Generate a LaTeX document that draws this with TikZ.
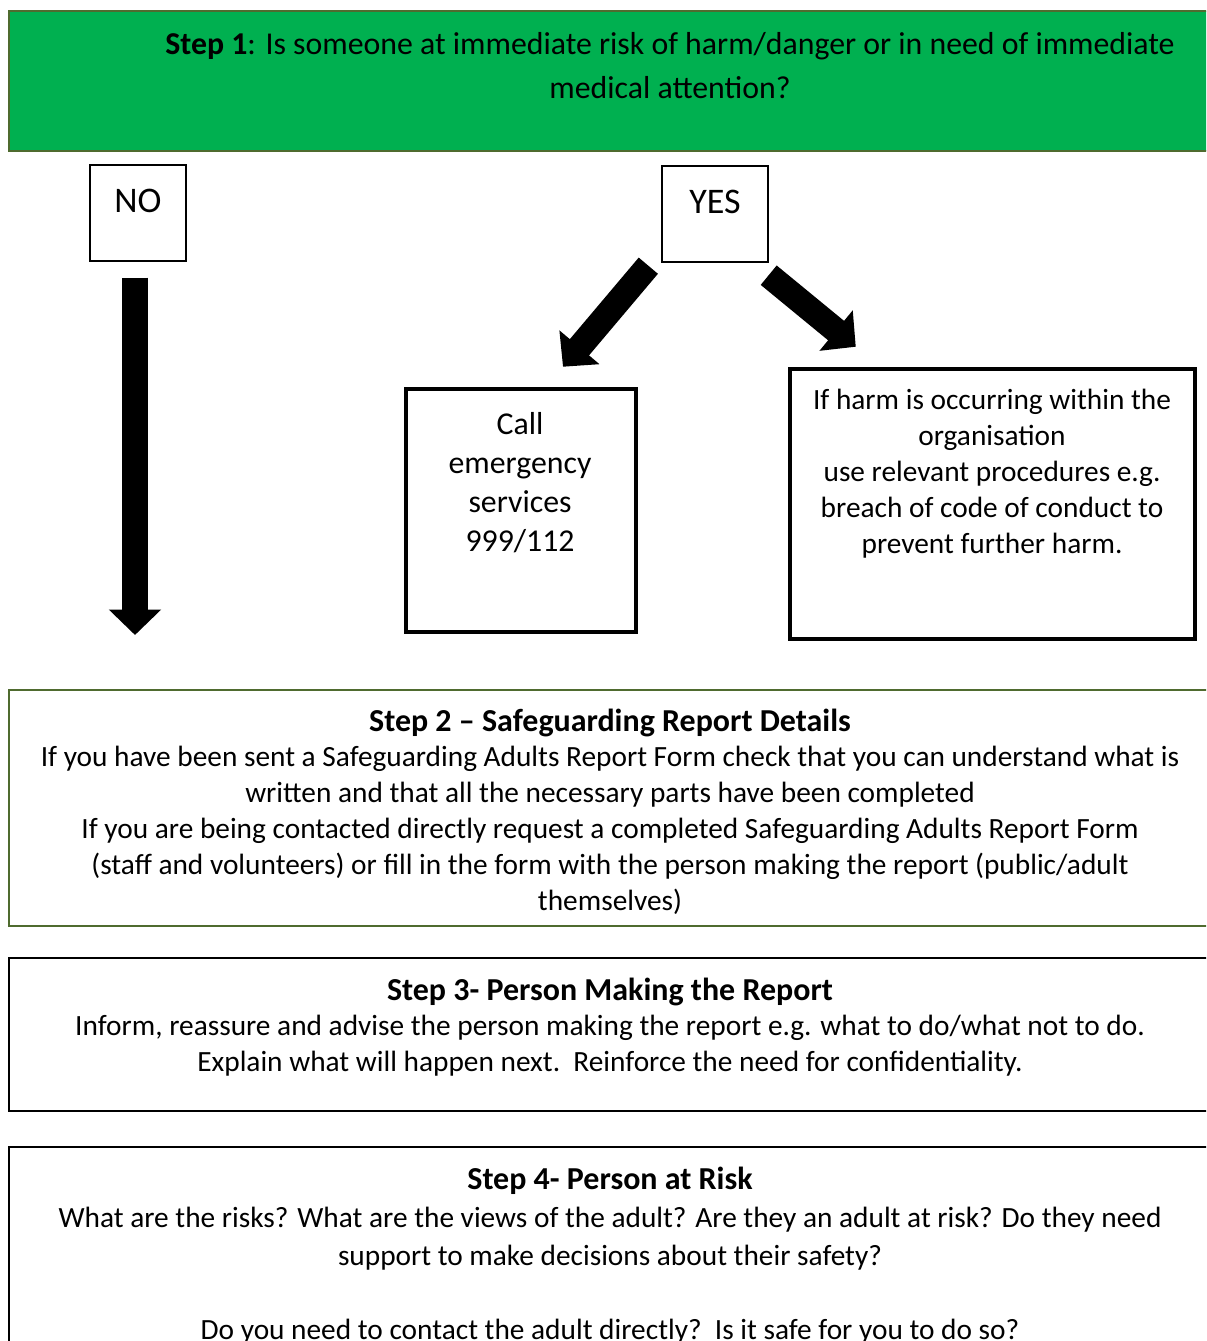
\documentclass[tikz,border=0pt]{standalone}
\usepackage{fontspec}
\setmainfont{Carlito}
\usetikzlibrary{arrows.meta,positioning}
\definecolor{stepgreen}{HTML}{00B050}
\definecolor{olive}{HTML}{4F6B2F}
\newcommand{\steptitle}[1]{{\fontsize{18.2pt}{20.4pt}\selectfont\textbf{#1}}}
\tikzset{
  box/.style={draw=black, line width=0.8pt, inner sep=0pt},
  thickbox/.style={draw=black, line width=2.6pt, inner sep=0pt},
  stepbox/.style={inner sep=0pt, minimum width=24.12cm},
  txt/.style={align=center, inner sep=0pt, font=\fontsize{16.7pt}{20.4pt}\selectfont},
  bigtxt/.style={txt, font=\fontsize{18.1pt}{22.1pt}\selectfont},
  bigarrow/.style={line width=14.3pt, -{Triangle[length=14.5pt,width=29pt]}}
}

\begin{document}
\begin{tikzpicture}[x=0.02cm,y=-0.02cm]
\useasboundingbox (0,0) rectangle (1206,1341);
\clip (0,0) rectangle (1206,1341);

% step 1
\node [stepbox, fill=stepgreen, draw=olive, line width=0.8pt, minimum height=2.8cm] (step1) at (612,81) {};
\node [txt, font=\fontsize{18.1pt}{25.5pt}\selectfont] (step1txt) at (670,65.5) {\textbf{Step 1}: Is someone at immediate risk of harm/danger or in need of immediate\\medical attention?};

% no / yes
\node [box, minimum width=1.92cm, minimum height=1.92cm] (no) at (138,213) {};
\node [txt, font=\fontsize{20.5pt}{24pt}\selectfont] (notxt) at (138,201) {NO};
\node [box, minimum width=2.12cm, minimum height=1.92cm] (yes) at (715,214) {};
\node [txt, font=\fontsize{20.5pt}{24pt}\selectfont] (yestxt) at (715,202) {YES};

% outcomes
\node [thickbox, minimum width=4.6cm, minimum height=4.86cm] (call) at (521,510.5) {};
\node [bigtxt] (calltxt) at (520,482.5) {Call\\emergency\\services\\999/112};
\node [thickbox, minimum width=8.1cm, minimum height=5.4cm] (harm) at (992.5,504) {};
\node [txt] (harmtxt) at (992,473.5) {If harm is occurring within the\\organisation\\use relevant procedures e.g.\\breach of code of conduct to\\prevent further harm.};

\coordinate (noend) at (135,635);
\draw [bigarrow] ([shift={(-3,16)}]no.south) -- (noend);
\draw [bigarrow] ([shift={(-13,3)}]yes.south west) -- ([shift={(42,-20)}]call.north);
\draw [bigarrow] ([shift={(0,12.5)}]yes.south east) -- ([shift={(68,-20)}]harm.north west);

% step 2
\node [stepbox, draw=olive, line width=1pt, minimum height=4.72cm] (step2) at (612,808) {};
\node [txt] (step2txt) at (610,811.5) {\steptitle{Step 2 – Safeguarding Report Details}\\If you have been sent a Safeguarding Adults Report Form check that you can understand what is\\written and that all the necessary parts have been completed\\If you are being contacted directly request a completed Safeguarding Adults Report Form\\(staff and volunteers) or fill in the form with the person making the report (public/adult\\themselves)};

% step 3
\node [stepbox, draw=black, line width=1.5pt, minimum height=3.06cm] (step3) at (612,1034.5) {};
\node [txt] (step3txt) at (610,1027) {\steptitle{Step 3- Person Making the Report}\\Inform, reassure and advise the person making the report e.g. what to do/what not to do.\\Explain what will happen next.\ \ Reinforce the need for confidentiality.};

% step 4
\node [stepbox, draw=black, line width=1.5pt, minimum height=5.06cm] (step4) at (612,1273.5) {};
\node [txt, font=\fontsize{16.7pt}{21.5pt}\selectfont] (step4txt) at (610,1256) {\steptitle{Step 4- Person at Risk}\\What are the risks? What are the views of the adult? Are they an adult at risk? Do they need\\support to make decisions about their safety?\\[21pt]Do you need to contact the adult directly?\ \ Is it safe for you to do so?};
\end{tikzpicture}
\end{document}
